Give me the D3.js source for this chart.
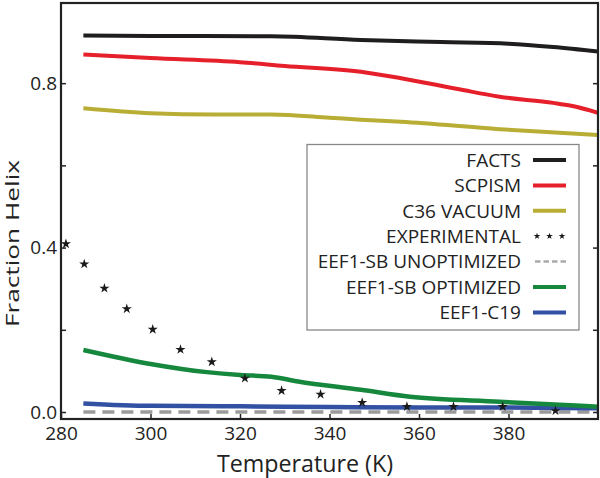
<!DOCTYPE html>
<html>
<head>
<meta charset="utf-8">
<script src="https://cdn.jsdelivr.net/npm/d3@7"></script>
<style>
  html, body { margin: 0; padding: 0; background: #fff; }
  svg { display: block; font-family: "Open Sans", "DejaVu Sans", sans-serif; }
</style>
</head>
<body>
<svg id="chart" width="600" height="478"></svg>
<script>
// ---- data ----
const factsT  = [285, 300, 327, 347, 365, 380, 390, 400];
const factsV  = [0.916, 0.915, 0.914, 0.905, 0.900, 0.896, 0.888, 0.877];

const scpismT = [285, 300, 320, 330, 347, 356, 369, 378, 390, 394, 400];
const scpismV = [0.870, 0.861, 0.851, 0.842, 0.828, 0.812, 0.785, 0.767, 0.752, 0.745, 0.728];

const c36T    = [285, 300, 314, 327, 340, 347, 356, 378, 400];
const c36V    = [0.739, 0.727, 0.724, 0.724, 0.716, 0.711, 0.706, 0.688, 0.674];

const expT    = [281.1, 285.2, 289.7, 294.7, 300.5, 306.7, 313.7, 321.1, 329.3, 338.0, 347.3, 357.3, 367.7, 378.7, 390.5];
const expV    = [0.409, 0.360, 0.301, 0.251, 0.201, 0.152, 0.122, 0.082, 0.052, 0.043, 0.023, 0.013, 0.013, 0.013, 0.003];

const unoptT  = [285, 300, 320, 340, 360, 380, 400];
const unoptV  = [0.0, 0.0, 0.0, 0.0, 0.0, 0.0, 0.0];

const optT    = [285, 300, 312.6, 320, 327, 333, 347, 358, 378, 400];
const optV    = [0.151, 0.117, 0.097, 0.090, 0.086, 0.074, 0.054, 0.037, 0.025, 0.013];

const c19T    = [285, 300, 320, 340, 360, 380, 400];
const c19V    = [0.021, 0.015, 0.014, 0.012, 0.011, 0.011, 0.009];

const seriesNames = ["FACTS", "SCPISM", "C36 VACUUM", "EXPERIMENTAL",
                     "EEF1-SB UNOPTIMIZED", "EEF1-SB OPTIMIZED", "EEF1-C19"];
const xTicks = [280, 300, 320, 340, 360, 380];
const yTicks = [0.0, 0.2, 0.4, 0.6, 0.8];
const yLabeled = [0.0, 0.4, 0.8];
const xTitle = "Temperature (K)";
const yTitle = "Fraction Helix";

// ---- styles ----
const styles = {
  "FACTS":               {color: "#1f1d1e", width: 4},
  "SCPISM":              {color: "#e6202b", width: 4},
  "C36 VACUUM":          {color: "#b8ae35", width: 4},
  "EXPERIMENTAL":        {color: "#1a1a1a"},
  "EEF1-SB UNOPTIMIZED": {color: "#9b9b9b", width: 3.5, dash: "12,7"},
  "EEF1-SB OPTIMIZED":   {color: "#15883e", width: 4.5},
  "EEF1-C19":            {color: "#3351a3", width: 4.5}
};

const svg = d3.select("#chart");
const L = 61, R = 598, T = 3, B = 419;

const x = d3.scaleLinear().domain([280, 400]).range([L, R]);
const y = d3.scaleLinear().domain([-0.017, 0.995]).range([B, T]);

svg.append("defs").append("clipPath").attr("id", "plotclip")
  .append("rect").attr("x", L).attr("y", T).attr("width", R - L).attr("height", B - T);

const plot = svg.append("g").attr("clip-path", "url(#plotclip)");

const line = d3.line().x(d => x(d[0])).y(d => y(d[1])).curve(d3.curveMonotoneX);
const zip = (a, b) => a.map((v, i) => [v, b[i]]);

const lineSeries = [
  ["EEF1-SB UNOPTIMIZED", unoptT, unoptV],
  ["EEF1-C19", c19T, c19V],
  ["EEF1-SB OPTIMIZED", optT, optV],
  ["C36 VACUUM", c36T, c36V],
  ["SCPISM", scpismT, scpismV],
  ["FACTS", factsT, factsV]
];

lineSeries.forEach(([name, ts, vs]) => {
  const s = styles[name];
  plot.append("path")
    .datum(zip(ts, vs))
    .attr("d", line)
    .attr("fill", "none")
    .attr("stroke", s.color)
    .attr("stroke-width", s.width)
    .attr("stroke-dasharray", s.dash || null)
    .attr("stroke-linejoin", "round");
});

const star = d3.symbol().type(d3.symbolStar).size(32);
svg.append("g").selectAll("path").data(zip(expT, expV)).join("path")
  .attr("d", star)
  .attr("transform", d => `translate(${x(d[0])},${y(d[1])})`)
  .attr("fill", styles["EXPERIMENTAL"].color);

// ---- axes ----
const yAxis = d3.axisLeft(y).tickValues(yTicks).tickSize(-5).tickPadding(4)
  .tickFormat(d => yLabeled.some(v => Math.abs(v - d) < 1e-9) ? d3.format(".1f")(d) : "");
const gy = svg.append("g").attr("transform", `translate(${L},0)`).call(yAxis);
gy.select(".domain").remove();
gy.selectAll("line").attr("stroke", "#222").attr("stroke-width", 1.5);
gy.selectAll("text").attr("font-size", 19).attr("fill", "#222")
  .attr("font-family", "'Open Sans', sans-serif");

const yAxisR = d3.axisRight(y).tickValues(yTicks).tickSize(-5).tickFormat("");
const gyr = svg.append("g").attr("transform", `translate(${R},0)`).call(yAxisR);
gyr.select(".domain").remove();
gyr.selectAll("line").attr("stroke", "#222").attr("stroke-width", 1.5);

const xAxis = d3.axisBottom(x).tickValues(xTicks).tickSize(-5).tickPadding(8)
  .tickFormat(d3.format("d"));
const gx = svg.append("g").attr("transform", `translate(0,${B})`).call(xAxis);
gx.select(".domain").remove();
gx.selectAll("line").attr("stroke", "#222").attr("stroke-width", 1.5);
gx.selectAll("text").attr("font-size", 19).attr("fill", "#222")
  .attr("font-family", "'Open Sans', sans-serif");

// frame
svg.append("rect").attr("x", L).attr("y", T).attr("width", R - L).attr("height", B - T)
  .attr("fill", "none").attr("stroke", "#222").attr("stroke-width", 2.2);

// titles
svg.append("text").attr("x", 305).attr("y", 472).attr("text-anchor", "middle")
  .attr("font-size", 24).attr("fill", "#222")
  .attr("textLength", 176).attr("lengthAdjust", "spacingAndGlyphs")
  .text(xTitle);

svg.append("text").attr("transform", "translate(18.5,243.5) rotate(-90)")
  .attr("text-anchor", "middle").attr("font-size", 19).attr("fill", "#222")
  .attr("textLength", 167).attr("lengthAdjust", "spacingAndGlyphs")
  .text(yTitle);

// ---- legend ----
const lg = svg.append("g");
lg.append("rect").attr("x", 307).attr("y", 144.5).attr("width", 272).attr("height", 185.5)
  .attr("fill", "#fff").attr("stroke", "#888").attr("stroke-width", 1.3);

seriesNames.forEach((name, i) => {
  const cy = 160 + i * 25.4;
  const s = styles[name];
  lg.append("text").attr("x", 521).attr("y", cy + 6.7).attr("text-anchor", "end")
    .attr("font-size", 19).attr("fill", "#222").text(name);
  if (name === "EXPERIMENTAL") {
    [537, 549.5, 562].forEach(px => {
      lg.append("path").attr("d", d3.symbol().type(d3.symbolStar).size(14)())
        .attr("transform", `translate(${px},${cy})`).attr("fill", s.color);
    });
  } else if (s.dash) {
    lg.append("line").attr("x1", 535).attr("x2", 566).attr("y1", cy).attr("y2", cy)
      .attr("stroke", "#aaa").attr("stroke-width", 2.5).attr("stroke-dasharray", "5.5,3");
  } else {
    lg.append("line").attr("x1", 533).attr("x2", 566).attr("y1", cy).attr("y2", cy)
      .attr("stroke", s.color).attr("stroke-width", 4);
  }
});
</script>
</body>
</html>
